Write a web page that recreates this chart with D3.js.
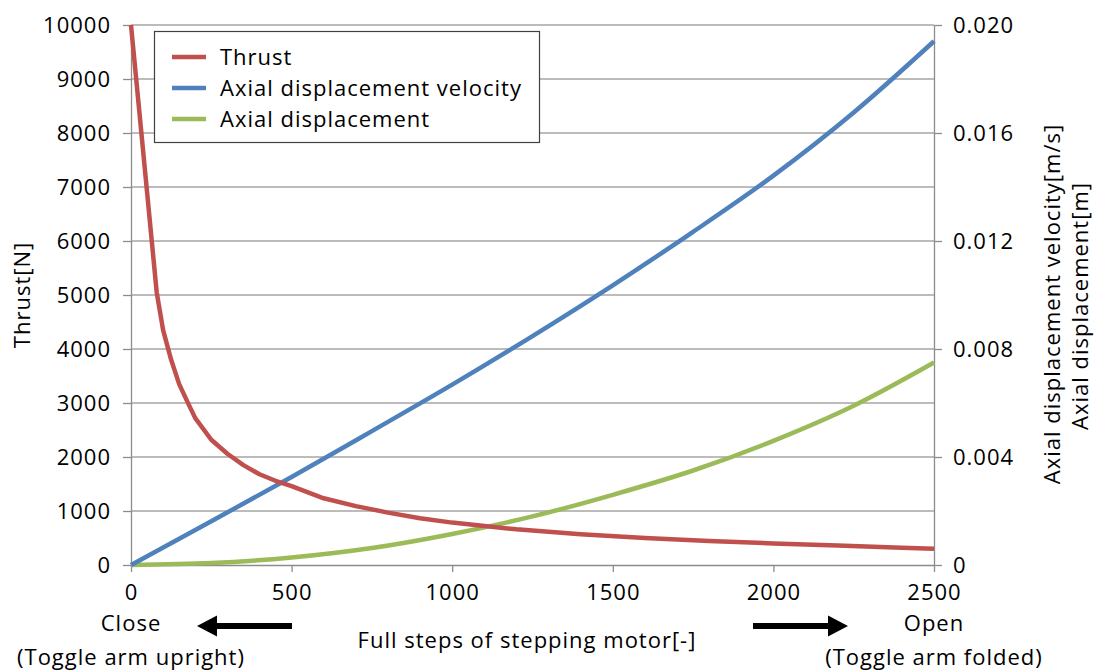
<!DOCTYPE html>
<html>
<head>
<meta charset="utf-8">
<script src="https://cdn.jsdelivr.net/npm/d3@7"></script>
<style>
    body { margin: 0; background: white; }
    svg text { font-family: "Open Sans", sans-serif; fill: #000; letter-spacing: 1px; }
</style>
</head>
<body>
<div id="chart"></div>
<script>

// thrust readings (full steps -> N)
var thrustSteps = [0, 80, 100, 125, 150, 175, 200, 250, 300, 350, 400, 450, 500, 600, 700, 800, 900, 1000, 1200, 1400, 1600, 1800, 2000, 2200, 2400, 2500];
var thrustValues = [10000, 5050, 4350, 3800, 3350, 3030, 2720, 2320, 2060, 1850, 1680, 1560, 1460, 1235, 1090, 970, 865, 785, 660, 570, 500, 445, 400, 360, 320, 300];

// axial readings (full steps -> m/s, m)
var axialSteps = [0, 250, 500, 750, 1000, 1250, 1500, 1750, 2000, 2250, 2500];
var velocityValues = [0, 0.00162, 0.00326, 0.00496, 0.00668, 0.00848, 0.01036, 0.01234, 0.01442, 0.01676, 0.0194];
var displacementValues = [0, 0.00007, 0.00028, 0.00063, 0.00115, 0.0018, 0.0026, 0.0035, 0.0046, 0.0059, 0.0075];

var xTicks = [0, 500, 1000, 1500, 2000, 2500];
var leftTicks = [0, 1000, 2000, 3000, 4000, 5000, 6000, 7000, 8000, 9000, 10000];
var rightTicks = [0, 0.004, 0.008, 0.012, 0.016, 0.020];

var seriesNames = ["Thrust", "Axial displacement velocity", "Axial displacement"];
var seriesColors = ["#C0504D", "#4F81BD", "#9BBB59"];

var width = 1100, height = 670;
var margin = {left: 131, right: 166, top: 25, bottom: 105};
var plotW = width - margin.left - margin.right,
    plotH = height - margin.top - margin.bottom;

var svg = d3.select("#chart").append("svg")
    .attr("width", width)
    .attr("height", height);

var x = d3.scaleLinear().domain([0, 2500]).range([0, plotW]);
var yLeft = d3.scaleLinear().domain([0, 10000]).range([plotH, 0]);
var yRight = d3.scaleLinear().domain([0, 0.02]).range([plotH, 0]);

var g = svg.append("g")
    .attr("transform", "translate(" + margin.left + "," + margin.top + ")");

//grid
g.append("g").attr("class", "grid")
    .selectAll("line")
    .data(leftTicks.slice(1))
    .enter().append("line")
    .attr("x1", 0).attr("x2", plotW)
    .attr("y1", function (d) { return yLeft(d); })
    .attr("y2", function (d) { return yLeft(d); })
    .attr("stroke", "#a6a6a6")
    .attr("stroke-width", 1.3);

//axes
var axisLeft = g.append("g")
    .call(d3.axisLeft(yLeft).tickValues(leftTicks).tickSize(8).tickPadding(12).tickSizeOuter(0)
        .tickFormat(d3.format("d")));
var axisRight = g.append("g")
    .attr("transform", "translate(" + plotW + ",0)")
    .call(d3.axisRight(yRight).tickValues(rightTicks).tickSize(8).tickPadding(11).tickSizeOuter(0)
        .tickFormat(function (d) { return d === 0 ? "0" : d3.format(".3f")(d); }));
var axisBottom = g.append("g")
    .attr("transform", "translate(0," + plotH + ")")
    .call(d3.axisBottom(x).tickValues(xTicks).tickSize(7).tickPadding(12).tickSizeOuter(0)
        .tickFormat(d3.format("d")));

[axisLeft, axisRight, axisBottom].forEach(function (a) {
    a.select(".domain").attr("stroke", "#8c8c8c").attr("stroke-width", 1.3);
    a.selectAll(".tick line").attr("stroke", "#8c8c8c").attr("stroke-width", 1.3);
    a.selectAll(".tick text").style("font-size", "22px").attr("fill", "#000");
});
axisLeft.selectAll(".tick text").attr("dy", "0.35em");
axisRight.selectAll(".tick text").attr("dy", "0.35em");

//series
var lineThrust = d3.line()
    .x(function (d, i) { return x(thrustSteps[i]); })
    .y(function (d) { return yLeft(d); });
var lineAxial = d3.line()
    .curve(d3.curveMonotoneX)
    .x(function (d, i) { return x(axialSteps[i]); })
    .y(function (d) { return yRight(d); });

g.append("path").datum(displacementValues)
    .attr("d", lineAxial).attr("fill", "none")
    .attr("stroke", seriesColors[2]).attr("stroke-width", 4.5).attr("stroke-linejoin", "round");
g.append("path").datum(velocityValues)
    .attr("d", lineAxial).attr("fill", "none")
    .attr("stroke", seriesColors[1]).attr("stroke-width", 4.5).attr("stroke-linejoin", "round");
g.append("path").datum(thrustValues)
    .attr("d", lineThrust).attr("fill", "none")
    .attr("stroke", seriesColors[0]).attr("stroke-width", 4.5).attr("stroke-linejoin", "round");

//legend
var legend = svg.append("g").attr("transform", "translate(154,31)");
legend.append("rect")
    .attr("x", 0.5).attr("y", 0.5)
    .attr("width", 385).attr("height", 111)
    .attr("fill", "white")
    .attr("stroke", "#404040")
    .attr("stroke-width", 1.2);
var items = legend.selectAll("g.item")
    .data(seriesNames)
    .enter().append("g")
    .attr("class", "item")
    .attr("transform", function (d, i) { return "translate(0," + (26 + i * 31) + ")"; });
items.append("line")
    .attr("x1", 18).attr("x2", 52)
    .attr("stroke", function (d, i) { return seriesColors[i]; })
    .attr("stroke-width", 4.5);
items.append("text")
    .attr("x", 66)
    .attr("dy", "0.35em")
    .style("font-size", "22px")
    .text(function (d) { return d; });

//axis titles
svg.append("text")
    .attr("transform", "translate(30," + (margin.top + plotH / 2) + ") rotate(-90)")
    .attr("text-anchor", "middle")
    .style("font-size", "22px")
    .text("Thrust[N]");
svg.append("text")
    .attr("transform", "translate(1060,304) rotate(-90)")
    .attr("text-anchor", "middle")
    .style("font-size", "22px")
    .text("Axial displacement velocity[m/s]");
svg.append("text")
    .attr("transform", "translate(1088,306) rotate(-90)")
    .attr("text-anchor", "middle")
    .style("font-size", "22px")
    .text("Axial displacement[m]");

svg.append("text")
    .attr("x", 527).attr("y", 648)
    .attr("text-anchor", "middle")
    .style("font-size", "22px")
    .text("Full steps of stepping motor[-]");

var endLabels = [
    {x: 0, top: "Close", bottom: "(Toggle arm upright)"},
    {x: 2500, top: "Open", bottom: "(Toggle arm folded)"}
];
endLabels.forEach(function (e) {
    svg.append("text")
        .attr("x", margin.left + x(e.x)).attr("y", 631)
        .attr("text-anchor", "middle")
        .style("font-size", "22px")
        .text(e.top);
    svg.append("text")
        .attr("x", margin.left + x(e.x)).attr("y", 665)
        .attr("text-anchor", "middle")
        .style("font-size", "22px")
        .text(e.bottom);
});

//direction arrows
function arrow(x0, x1) {
    var dir = x1 > x0 ? 1 : -1,
        head = 20,
        yc = 626;
    svg.append("path")
        .attr("d", "M" + x0 + "," + (yc - 3) +
            "L" + (x1 - dir * head) + "," + (yc - 3) +
            "L" + (x1 - dir * head) + "," + (yc - 10.5) +
            "L" + x1 + "," + yc +
            "L" + (x1 - dir * head) + "," + (yc + 10.5) +
            "L" + (x1 - dir * head) + "," + (yc + 3) +
            "L" + x0 + "," + (yc + 3) + "Z")
        .attr("fill", "#000");
}
arrow(292, 197);
arrow(753, 848);

</script>
</body>
</html>
